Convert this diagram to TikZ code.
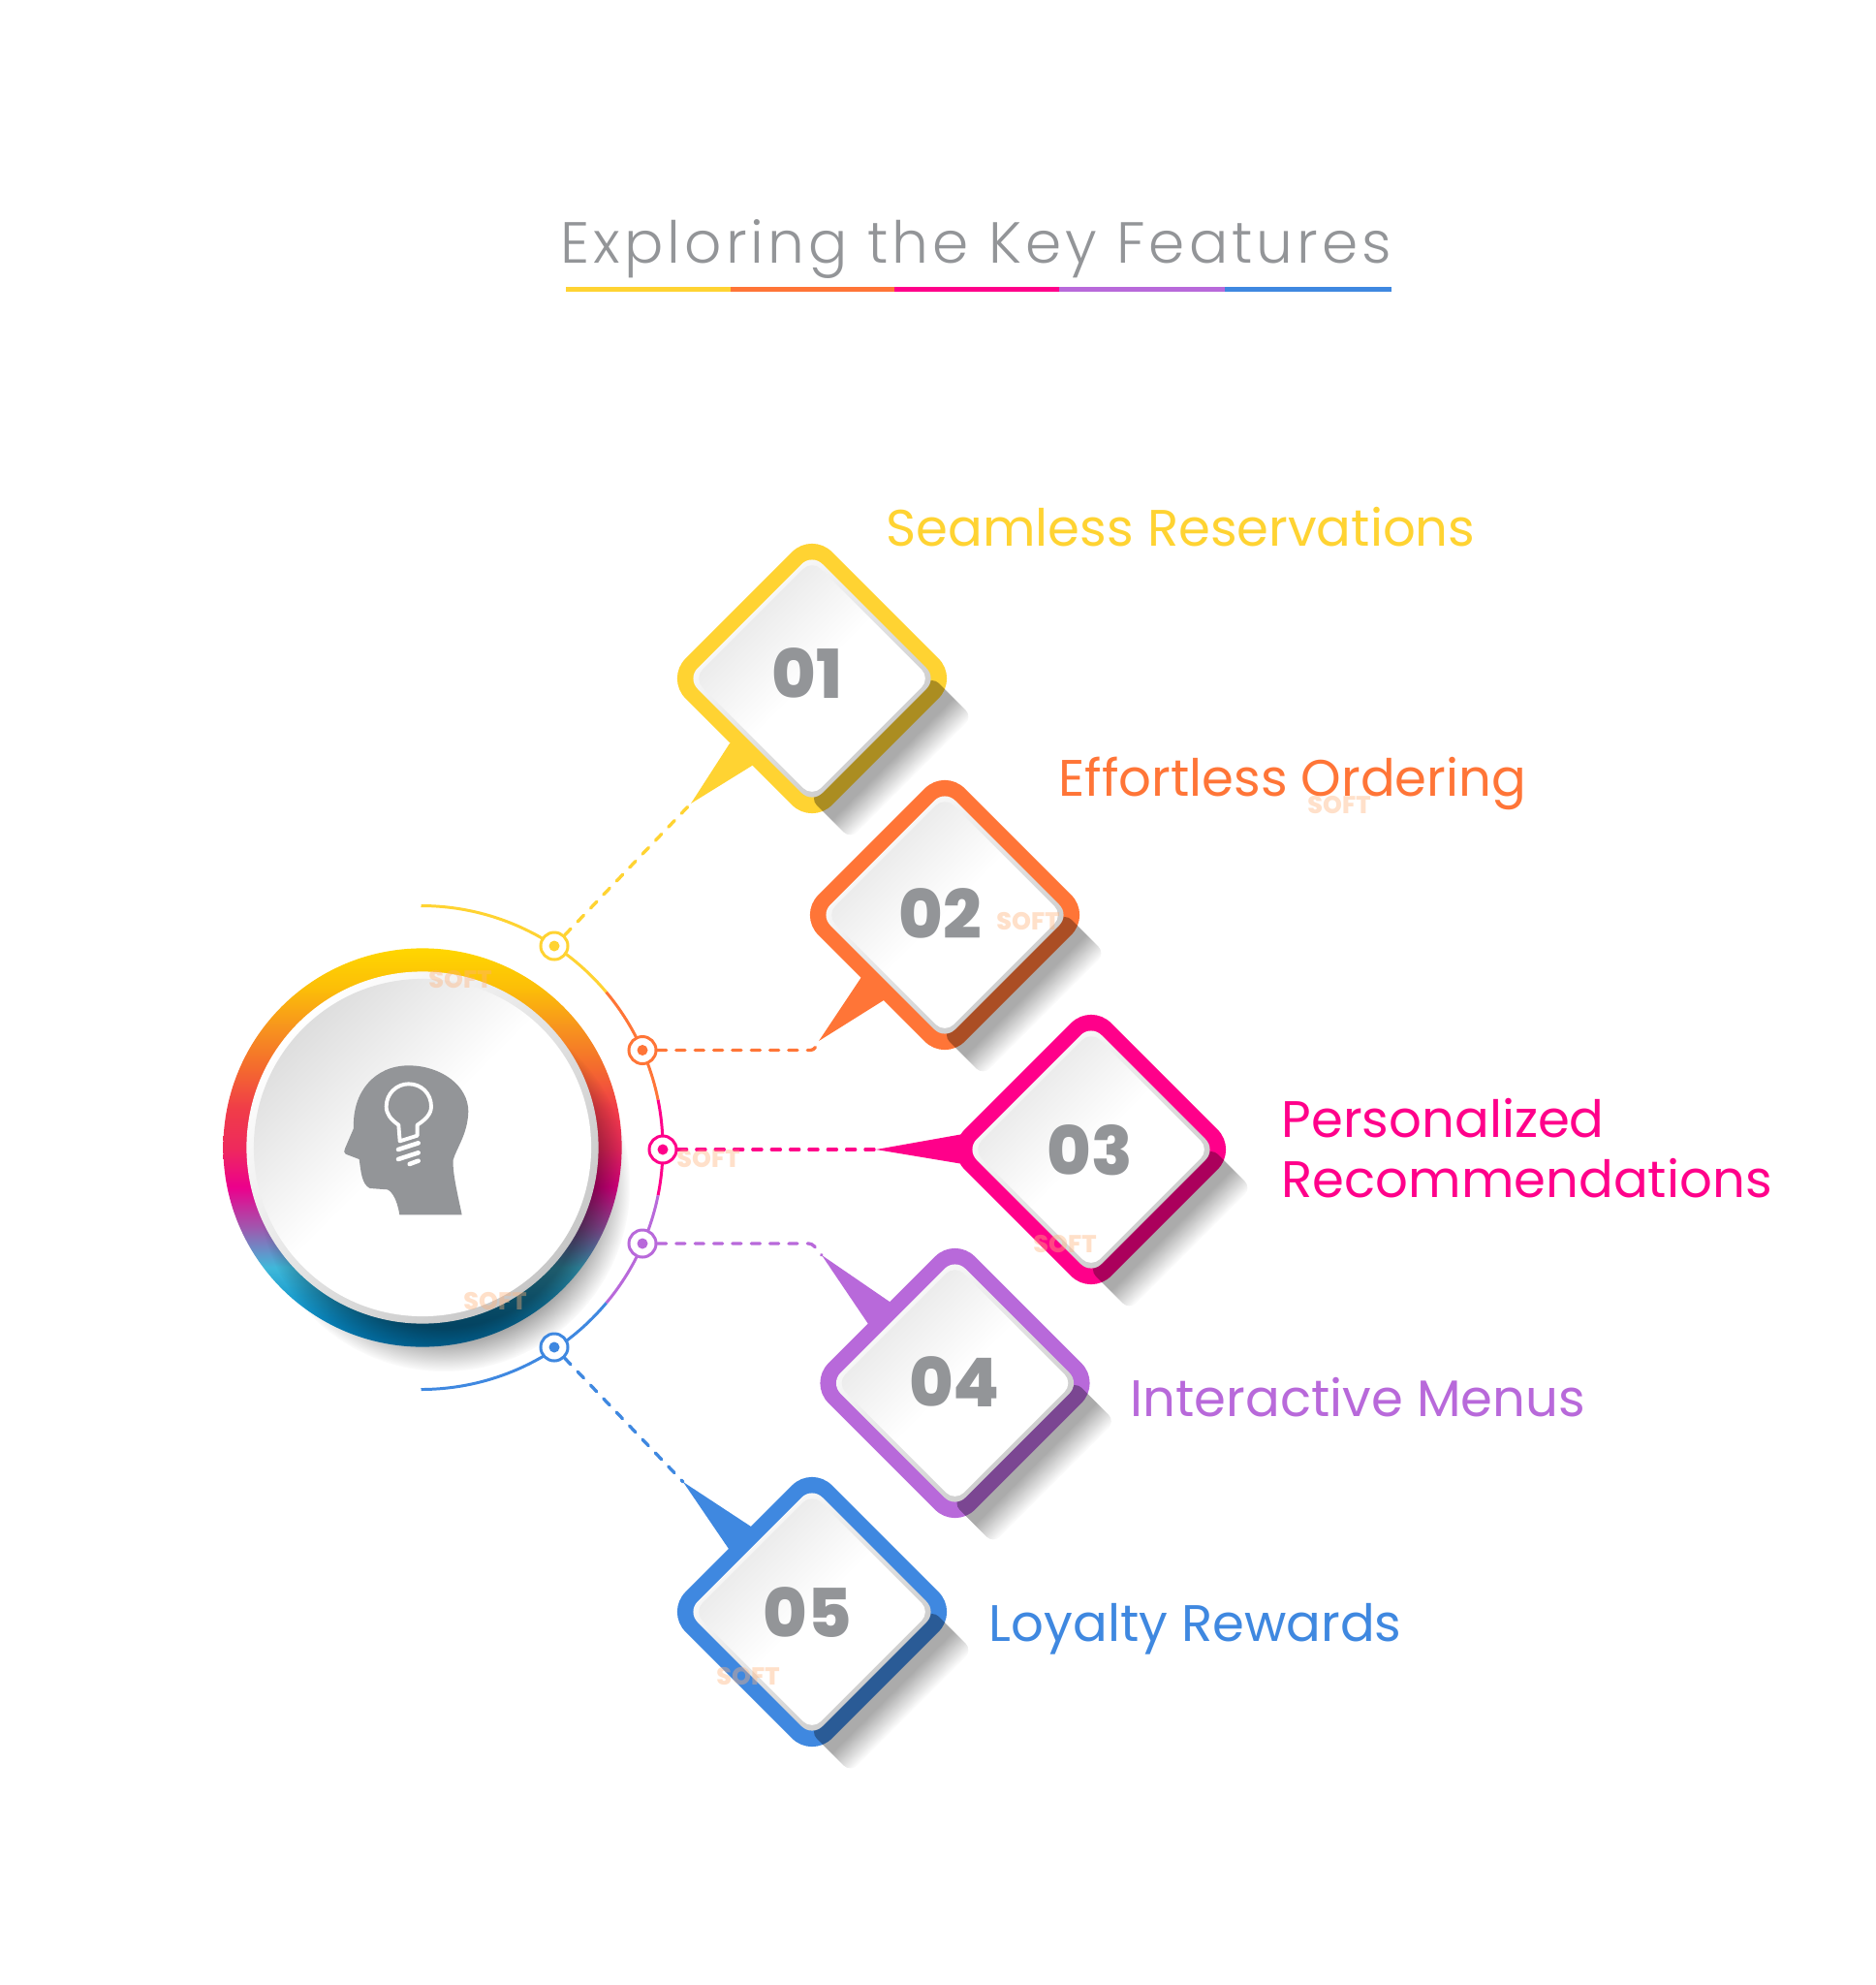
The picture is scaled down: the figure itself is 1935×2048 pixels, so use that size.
\documentclass[tikz,border=0pt]{standalone}
\usepackage{fontspec}
\usetikzlibrary{fadings}
\setmainfont{Poppins}
\newfontfamily\titlefont[LetterSpace=6.8]{Poppins Light}
\newfontfamily\labelfont{Poppins}
\newfontfamily\numfont{Poppins ExtraBold}
\newfontfamily\markfont{Poppins ExtraBold}
\definecolor{cyellow}{HTML}{FFD332}
\definecolor{corange}{HTML}{FF7537}
\definecolor{cpink}{HTML}{FF008A}
\definecolor{cpurple}{HTML}{B869DA}
\definecolor{cblue}{HTML}{3F88E0}
\definecolor{cgray}{HTML}{939598}
\definecolor{cpeach}{HTML}{FFB27A}
% Colours of the big ring, bottom to top
\definecolor{ringa}{HTML}{0080C0}
\definecolor{ringb}{HTML}{0A8CC6}
\definecolor{ringc}{HTML}{1E9FCE}
\definecolor{ringd}{HTML}{3FB8DA}
\definecolor{ringe}{HTML}{A057AE}
\definecolor{ringf}{HTML}{EC008C}
\definecolor{ringg}{HTML}{EE2A5C}
\definecolor{ringh}{HTML}{F03D48}
\definecolor{ringi}{HTML}{F46A2E}
\definecolor{ringj}{HTML}{F7931E}
\definecolor{ringk}{HTML}{FCBE08}
\definecolor{ringl}{HTML}{FFD600}
\pgfdeclareverticalshading{ringshading}{100bp}{%
  color(0bp)=(ringa); color(25bp)=(ringa); color(28.5bp)=(ringb); color(31.5bp)=(ringc);
  color(35bp)=(ringd); color(40bp)=(ringe); color(45bp)=(ringf); color(50bp)=(ringg);
  color(55bp)=(ringh); color(60bp)=(ringi); color(65bp)=(ringj); color(70bp)=(ringk);
  color(75bp)=(ringl); color(100bp)=(ringl)}
\pgfdeclareverticalshading{discfaceshading}{100bp}{%
  color(0bp)=(white); color(52bp)=(white); color(75bp)=(black!13); color(100bp)=(black!13)}
\pgfdeclareverticalshading{boxfaceshading}{100bp}{%
  color(0bp)=(white); color(50bp)=(white); color(69bp)=(black!8); color(100bp)=(black!8)}
\pgfdeclareradialshading{discshading}{\pgfpointorigin}{%
  color(0bp)=(white); color(19bp)=(white); color(25bp)=(black); color(50bp)=(black)}
\pgfdeclarefading{discfade}{\pgfuseshading{discshading}}
\pgfdeclareverticalshading{stripshading}{100bp}{%
  color(0bp)=(black); color(41.2bp)=(black); color(49.5bp)=(white); color(100bp)=(white)}
\pgfdeclarefading{stripfade}{\pgfuseshading{stripshading}}
\tikzset{
  ringbox/.style={rectangle, rotate=45, minimum size=2.136cm, rounded corners=0.29cm, inner sep=0},
  rimbox/.style={rectangle, rotate=45, minimum size=1.82cm, rounded corners=0.15cm, inner sep=0,
    top color=white, middle color=white, bottom color=black!22, shading angle=45},
  facebox/.style={rectangle, rotate=45, minimum size=1.727cm, rounded corners=0.13cm, inner sep=0,
    shading=boxfaceshading, shading angle=45},
  stripshade/.style={rectangle, rotate=45, minimum width=1.78cm, minimum height=0.59cm, rounded corners=0.1cm,
    inner sep=0, fill=black, fill opacity=0.33, path fading=stripfade, fading angle=45},
  linkdot/.style={circle, fill=white, line width=0.85pt, minimum size=0.28cm, inner sep=0},
  linkcore/.style={circle, minimum size=0.11cm, inner sep=0},
  linkline/.style={line width=0.95pt, line cap=round, dash pattern=on 2.6pt off 2.9pt, rounded corners=1pt},
  hoopline/.style={line width=0.85pt},
  featlabel/.style={font=\labelfont\fontsize{15.05}{17.64}\selectfont, inner sep=0, anchor=base west},
  featnum/.style={font=\numfont\fontsize{19.8}{24}\selectfont, text=cgray, inner sep=0},
  softmark/.style={font=\markfont\fontsize{7.2}{8}\selectfont, text=cpeach, text opacity=0.4, inner sep=0}
}
\begin{document}
\begin{tikzpicture}[x=0.01cm,y=0.01cm,yscale=-1]
  \useasboundingbox (0,0) rectangle (1935,2048);
  \def\featbox#1{
    \node[stripshade] (strip#1) at ([shift={(81.7,81.7)}]box#1.center) {};
    \node[rimbox] (rim#1) at (box#1.center) {};
    \node[facebox] (face#1) at (box#1.center) {};
  }

  % Title and its bar
  \node[font=\titlefont\fontsize{17}{20}\selectfont, text=cgray, inner sep=0, anchor=base west] (title) at (578,271.7) {Exploring the Key Features};
  \fill[cyellow] (584,296) rectangle (754,301.3);
  \fill[corange] (754,296) rectangle (923,301.3);
  \fill[cpink] (923,296) rectangle (1093,301.3);
  \fill[cpurple] (1093,296) rectangle (1264,301.3);
  \fill[cblue] (1264,296) rectangle (1436,301.3);

  % Hoop round the big circle
  \coordinate (mid) at (436,1184);
  \coordinate (hoopmid) at (434.5,1184);
  \draw[hoopline, cyellow] (hoopmid) ++(-90:249.5) arc (-90:-40:249.5);
  \draw[hoopline, corange] (hoopmid) ++(-40:249.5) arc (-40:-11.4:249.5);
  \draw[hoopline, cpink] (hoopmid) ++(-11.4:249.5) arc (-11.4:11.4:249.5);
  \draw[hoopline, cpurple] (hoopmid) ++(11.4:249.5) arc (11.4:40:249.5);
  \draw[hoopline, cblue] (hoopmid) ++(40:249.5) arc (40:90:249.5);

  % Big circle
  \node[circle, minimum size=4.11cm, inner sep=0, shading=ringshading] (ring) at (mid) {};
  \node[circle, minimum size=3.84cm, inner sep=0, fill=black, fill opacity=0.5, path fading=discfade] (ringshadow) at ([shift={(22,39)}]mid) {};
  \node[circle, minimum size=3.63cm, inner sep=0, top color=white, middle color=white, bottom color=black!22, shading angle=45] (disc) at (mid) {};
  \node[circle, minimum size=3.48cm, inner sep=0, shading=discfaceshading, shading angle=45] (discface) at (mid) {};

  % Head with the bulb
  \begin{scope}[shift={(340,1090)},scale=0.3333]
    \fill[cgray] (217,490) .. controls (210,445) and (195,420) .. (180,412)
      -- (125,408) .. controls (100,395) and (98,360) .. (92,318)
      -- (50,302) .. controls (44,298) and (45,292) .. (48,285) -- (75,222)
      .. controls (70,110) and (140,28) .. (245,28)
      .. controls (345,28) and (430,90) .. (430,170)
      .. controls (428,240) and (395,280) .. (383,320)
      .. controls (380,360) and (400,440) .. (410,490) -- cycle;
    \draw[white, line width=1.1pt, line join=round] (218,262) -- (214,212)
      .. controls (190,195) and (176,178) .. (176,155)
      .. controls (176,115) and (208,85) .. (245,85)
      .. controls (285,85) and (315,115) .. (315,155)
      .. controls (315,178) and (298,195) .. (272,212) -- (272,245) -- cycle;
    \draw[white, line width=1.3pt, line cap=round] (213,288) -- (275,268);
    \draw[white, line width=1.3pt, line cap=round] (213,318) -- (275,298);
    \draw[white, line width=1.3pt, line cap=round] (248,333) -- (275,323);
  \end{scope}

  % Dots on the hoop
  \node[linkdot, draw=cyellow] (dot1) at (572,976) {};
  \node[linkdot, draw=corange] (dot2) at (663,1083.5) {};
  \node[linkdot, draw=cpink] (dot3) at (684,1186) {};
  \node[linkdot, draw=cpurple] (dot4) at (663,1283) {};
  \node[linkdot, draw=cblue] (dot5) at (572,1390) {};
  \node[linkcore, fill=cyellow] (core1) at (dot1) {};
  \node[linkcore, fill=corange] (core2) at (dot2) {};
  \node[linkcore, fill=cpink] (core3) at (dot3) {};
  \node[linkcore, fill=cpurple] (core4) at (dot4) {};
  \node[linkcore, fill=cblue] (core5) at (dot5) {};

  % Box 01
  \coordinate (tip1) at (713,829);
  \fill[cyellow] (tip1) -- (753,767) -- (800,770) -- (776,790) -- cycle;
  \draw[linkline, cyellow] (dot1) -- (tip1);
  \node[ringbox, fill=cyellow] (box1) at (838,700) {};
  \featbox{1}
  \node[featnum] (num1) at (833,695) {01};

  % Box 02
  \coordinate (tip2) at (845,1074);
  \coordinate (bend2) at (840,1083.5);
  \fill[corange] (tip2) -- (889,1008) -- (936,1012) -- (912,1032) -- cycle;
  \draw[linkline, corange] (dot2) -- (bend2) -- (tip2);
  \node[ringbox, fill=corange] (box2) at (975,944) {};
  \featbox{2}
  \node[featnum] (num2) at (970,942.5) {02};

  % Box 03
  \coordinate (tip3) at (904,1186);
  \fill[cpink] (tip3) -- (994,1170) -- (1010,1186) -- (994,1201) -- cycle;
  \draw[linkline, cpink] (dot3) -- (tip3);
  \node[ringbox, fill=cpink] (box3) at (1126,1186) {};
  \featbox{3}
  \node[featnum] (num3) at (1125,1186.5) {03};

  % Box 04
  \coordinate (tip4) at (848,1295);
  \coordinate (bend4) at (838,1283);
  \fill[cpurple] (tip4) -- (918,1343) -- (925,1370) -- (896,1366) -- cycle;
  \draw[linkline, cpurple] (dot4) -- (bend4) -- (tip4);
  \node[ringbox, fill=cpurple] (box4) at (985.5,1427) {};
  \featbox{4}
  \node[featnum] (num4) at (985,1425.5) {04};

  % Box 05
  \coordinate (tip5) at (705,1529);
  \fill[cblue] (tip5) -- (775,1575) -- (780,1602) -- (752,1598) -- cycle;
  \draw[linkline, cblue] (dot5) -- (tip5);
  \node[ringbox, fill=cblue] (box5) at (838,1663) {};
  \featbox{5}
  \node[featnum] (num5) at (833,1663.5) {05};

  % Labels
  \node[featlabel, text=cyellow] (label1) at (914,563.7) {Seamless Reservations};
  \node[featlabel, text=corange] (label2) at (1092,821.5) {Effortless Ordering};
  \node[featlabel, text=cpink, anchor=west, align=left] (label3) at (1322,1185) {Personalized\\Recommendations};
  \node[featlabel, text=cpurple] (label4) at (1166,1461.5) {Interactive Menus};
  \node[featlabel, text=cblue] (label5) at (1020,1693.5) {Loyalty Rewards};

  % Faint marks
  \node[softmark] (mark1) at (475,1011) {SOFT};
  \node[softmark] (mark2) at (511,1342.6) {SOFT};
  \node[softmark] (mark3) at (731,1196) {SOFT};
  \node[softmark] (mark4) at (1061,951) {SOFT};
  \node[softmark] (mark5) at (1382,831) {SOFT};
  \node[softmark] (mark6) at (1099,1284) {SOFT};
  \node[softmark] (mark7) at (772,1729) {SOFT};
\end{tikzpicture}
\end{document}
